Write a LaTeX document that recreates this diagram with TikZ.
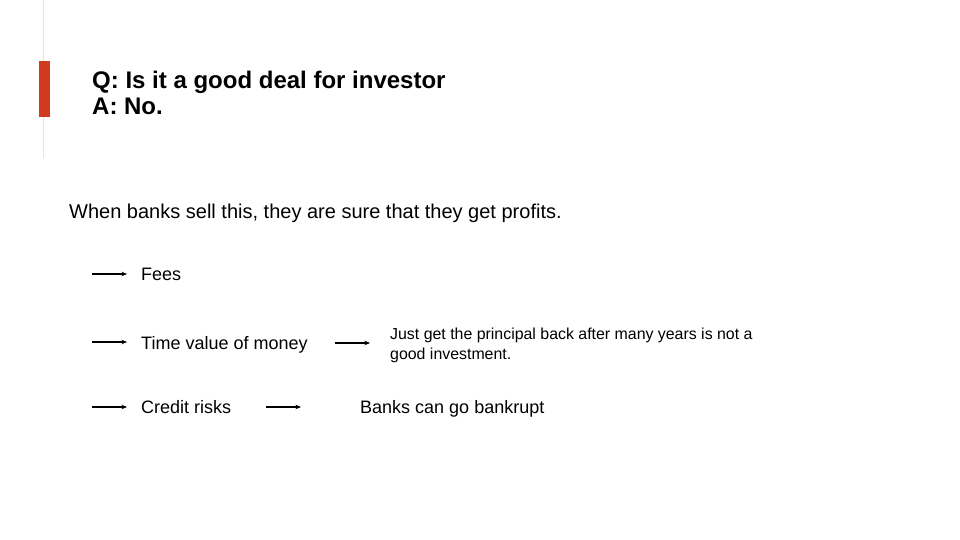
\documentclass[tikz,border=0pt]{standalone}
\usepackage{fontspec}
\setmainfont{Liberation Sans}
\usepackage{tikz}
\usetikzlibrary{arrows.meta}
\definecolor{barred}{HTML}{D13A1D}
\definecolor{rulegray}{HTML}{E4E4E4}

\begin{document}
\begin{tikzpicture}[x=1pt,y=-1pt,
		txt/.style={anchor=base west,inner sep=0pt,font=\fontsize{18}{22}\selectfont},
		pt/.style={-{Stealth[length=5.5pt,width=4.5pt]},line width=1.5pt}]
			\useasboundingbox (0,0) rectangle (960,540);
			\draw[rulegray, line width=1pt] (43.5,0) -- (43.5,158);
			\fill[barred] (39,61) rectangle (49.5,117.5);
			% multi-line nodes sit on the baseline of their last line
			\node[txt, font=\fontsize{24}{26}\selectfont\bfseries, align=left] (qa) at (92,114.5) {Q: Is it a good deal for investor\\A: No.};
			\node[txt, font=\fontsize{20}{24}\selectfont] (intro) at (69,218) {When banks sell this, they are sure that they get profits.};
			\node[txt] (fees) at (141,280.5) {Fees};
			\node[txt] (tvm) at (141,349.5) {Time value of money};
			\node[txt] (credit) at (141,413.5) {Credit risks};
			\node[txt, font=\fontsize{15.9}{20}\selectfont, align=left] (principal) at (390,359.7) {Just get the principal back after many years is not a\\good investment.};
			\node[txt] (bankrupt) at (360,413.5) {Banks can go bankrupt};
			\coordinate (c1) at (92,274);
			\coordinate (c2) at (92,342);
			\coordinate (c3) at (92,407);
			\coordinate (c4) at (335,343);
			\coordinate (c5) at (266,407);
			\draw[pt, shorten >=14pt] (c1) -- (c1 -| fees.west);
			\draw[pt, shorten >=14pt] (c2) -- (c2 -| tvm.west);
			\draw[pt, shorten >=14pt] (c3) -- (c3 -| credit.west);
			\draw[pt, shorten >=20pt] (c4) -- (c4 -| principal.west);
			\draw[pt, shorten >=59pt] (c5) -- (c5 -| bankrupt.west);
		\end{tikzpicture}
\end{document}
